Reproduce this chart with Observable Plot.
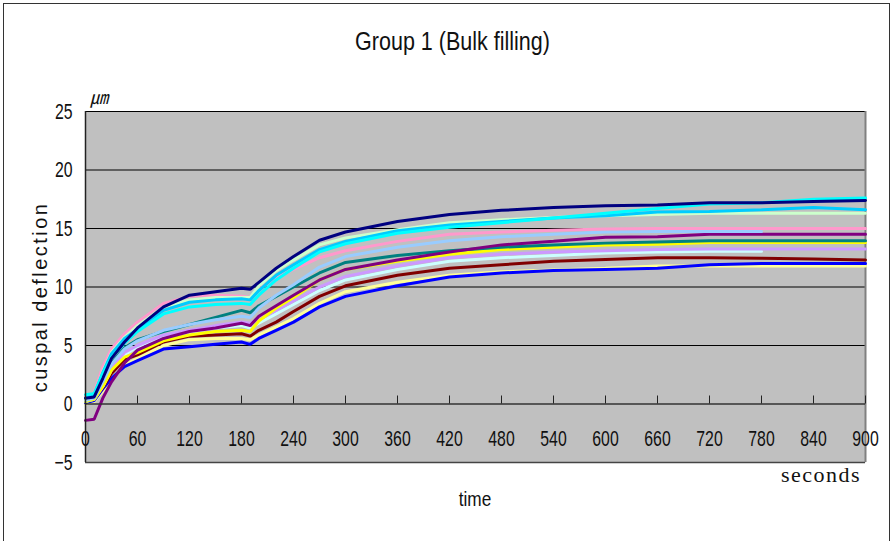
<!DOCTYPE html>
<html><head><meta charset="utf-8">
<script src="https://cdn.jsdelivr.net/npm/d3@7"></script>
<script src="https://cdn.jsdelivr.net/npm/@observablehq/plot@0.6"></script>
<style>
body{margin:0;background:#fff;}
#wrap{position:relative;width:893px;height:541px;overflow:hidden;font-family:"Liberation Sans",Arial,sans-serif;color:#111;}
#chart{position:absolute;left:0;top:0;}
#border{position:absolute;left:3px;top:3px;width:887px;height:600px;border:1.5px solid #333;box-sizing:border-box;}
.t{position:absolute;white-space:nowrap;}
#title{left:0;width:905px;text-align:center;top:27px;font-size:25px;transform:scaleX(0.86);}
#unit{left:90px;top:83px;font-size:18px;font-family:"Noto Sans CJK KR",sans-serif;font-style:italic;}
#ylab{left:40px;top:297px;font-size:21px;letter-spacing:2.6px;transform:translate(-50%,-50%) rotate(-90deg) scaleX(0.95);}
#secs{left:781px;top:462px;font-size:22px;letter-spacing:1.5px;font-family:"Liberation Serif","DejaVu Serif",serif;}
#xlab{left:0;width:950px;text-align:center;top:487px;font-size:21px;transform:scaleX(0.82);}
</style></head><body>
<div id="wrap">
  <div id="chart"></div>
  <div id="border"></div>
  <div class="t" id="title">Group 1 (Bulk filling)</div>
  <div class="t" id="unit">㎛</div>
  <div class="t" id="ylab">cuspal deflection</div>
  <div class="t" id="secs">seconds</div>
  <div class="t" id="xlab">time</div>
</div>
<script>
const times = [0,10,20,30,45,60,90,120,150,180,190,200,220,240,270,300,360,420,480,540,600,660,720,780,840,900];
const xTicks = [0,60,120,180,240,300,360,420,480,540,600,660,720,780,840,900];
const yTicks = [-5,0,5,10,15,20,25];
const gridLines = [5,10,15,20,25];

const navy        = [0.5,0.6,2.2,3.9,5.3,6.5,8.3,9.3,9.6,9.9,9.8,10.4,11.6,12.6,14.0,14.7,15.6,16.2,16.55,16.8,16.95,17.0,17.2,17.2,17.3,17.4];
const cyan        = [0.8,0.9,2.6,4.0,5.2,6.2,7.7,8.3,8.5,8.6,8.5,9.3,10.6,11.6,13.0,13.7,14.6,15.1,15.5,15.9,16.3,16.7,17.1,17.2,17.5,17.6];
const skyBlue     = [0.5,0.8,2.7,4.3,5.6,6.4,8.0,8.7,8.9,9.0,8.9,9.7,11.0,11.9,13.2,13.9,14.8,15.3,15.6,15.9,16.1,16.4,16.45,16.6,16.8,16.6];
const paleGreen   = [0.4,0.8,2.8,4.4,5.7,6.7,8.3,8.9,9.1,9.1,9.1,10.1,11.4,12.3,13.6,14.2,14.9,15.5,15.75,15.95,16.1,16.2,16.3,16.3,16.3,16.3];
const pink        = [0.6,1.0,3.2,4.7,6.0,7.0,8.6,9.2,9.3,9.2,9.1,9.8,10.8,11.5,12.5,13.1,13.9,14.5,14.7,14.85,14.95,15.0,15.0,15.0,15.0,15.0];
const lightBlue   = [0.3,0.5,1.9,3.4,4.7,5.4,6.3,6.8,7.2,7.5,7.4,8.2,9.3,10.2,11.7,12.6,13.4,13.95,14.3,14.5,14.7,14.75,14.75,14.75,null,null];
const purple      = [-1.4,-1.3,0.5,1.9,3.5,4.6,5.6,6.2,6.5,6.9,6.7,7.5,8.4,9.3,10.6,11.5,12.3,13.0,13.6,13.9,14.25,14.3,14.5,14.5,14.5,14.5];
const teal        = [0.4,0.6,2.1,3.5,4.8,5.5,6.2,6.8,7.4,8.0,7.8,8.4,9.2,10.0,11.2,12.1,12.7,13.1,13.4,13.6,13.75,13.85,13.95,13.95,13.95,13.95];
const yellow      = [0.2,0.4,1.5,2.9,4.0,4.4,5.4,5.9,6.2,6.3,6.2,7.1,8.2,9.1,10.6,11.5,12.2,12.8,13.2,13.4,13.6,13.65,13.8,13.8,13.8,13.8];
const lavender    = [0.3,0.5,1.7,3.1,4.4,5.0,5.9,6.3,6.7,7.0,6.9,7.2,8.0,8.8,10.0,10.9,11.8,12.5,12.8,13.0,13.1,13.2,13.25,13.25,13.25,13.25];
const lightCyan   = [0.2,0.4,1.5,2.9,4.2,4.9,5.7,6.1,6.5,6.7,6.5,6.9,7.7,8.5,9.7,10.6,11.5,12.2,12.5,12.7,12.9,13.0,13.05,13.05,null,null];
const darkRed     = [0.3,0.5,1.4,2.6,3.8,4.2,5.3,5.8,5.9,6.0,5.8,6.3,7.0,7.9,9.2,10.1,11.0,11.6,11.9,12.2,12.35,12.5,12.5,12.45,12.4,12.3];
const lightYellow = [0.0,0.2,1.1,2.1,3.3,3.9,5.0,5.5,5.6,5.6,5.5,5.9,6.6,7.3,8.6,9.6,10.4,11.0,11.3,11.45,11.6,11.8,11.8,11.8,11.8,11.8];
const blue        = [0.1,0.3,1.3,2.2,3.2,3.7,4.7,4.9,5.1,5.3,5.1,5.6,6.3,7.0,8.3,9.2,10.1,10.85,11.2,11.4,11.5,11.6,11.9,12.0,12.0,12.0];

const seriesNames = ["s1","s2","s3","s4","s5","s6","s7","s8","s9","s10","s11","s12","s13","s14"];
const seriesValues = [lightYellow, blue, darkRed, lightCyan, lavender, yellow, teal, purple, lightBlue, pink, paleGreen, skyBlue, cyan, navy];
const seriesColors = ["#FFFF99","#0000FF","#800000","#CCFFFF","#CC99FF","#FFFF00","#008080","#800080","#99CCFF","#FF99CC","#CCFFCC","#00CCFF","#00FFFF","#000080"];

const rows = [];
seriesNames.forEach((s, i) => {
  seriesValues[i].forEach((v, j) => { if (v !== null) rows.push({s, t: times[j], v}); });
});

const chart = Plot.plot({
  width: 893, height: 541,
  marginLeft: 85, marginRight: 28, marginTop: 111, marginBottom: 79,
  style: {fontFamily: '"Liberation Sans",Arial,sans-serif', fontSize: "22px", color: "#111", background: "transparent"},
  x: {domain: [0, 900]},
  y: {domain: [-5, 25]},
  color: {domain: seriesNames, range: seriesColors},
  marks: [
    Plot.frame({fill: "#c0c0c0", stroke: null}),
    Plot.ruleY(gridLines, {stroke: "#000", strokeWidth: 1}),
    Plot.ruleY([-5], {stroke: "#444", strokeWidth: 1.5}),
    Plot.ruleX([900], {stroke: "#808080", strokeWidth: 2}),
    Plot.line(rows, {x: "t", y: "v", z: "s", stroke: "s", strokeWidth: 3, strokeLinejoin: "miter"}),
    Plot.ruleY([0], {stroke: "#333", strokeWidth: 1.5}),
    Plot.ruleX(xTicks, {x: d => d, y1: 0, y2: 0, insetTop: -8, stroke: "#222", strokeWidth: 1}),
    Plot.ruleX([0], {stroke: "#222", strokeWidth: 1.5}),
    Plot.axisY(yTicks, {tickSize: 0, tickPadding: 13, label: null, fontSize: 22}),
    Plot.axisX(xTicks, {tickSize: 0, tickPadding: 3, dy: -35, label: null, fontSize: 22})
  ]
});
document.getElementById("chart").appendChild(chart);
// condense the tick label glyphs to match the narrow font of the original
chart.querySelectorAll('g[aria-label$="tick label"] text').forEach(t => {
  const len = t.getComputedTextLength();
  t.setAttribute("textLength", (len * 0.72).toFixed(1));
  t.setAttribute("lengthAdjust", "spacingAndGlyphs");
});
</script>
</body></html>
